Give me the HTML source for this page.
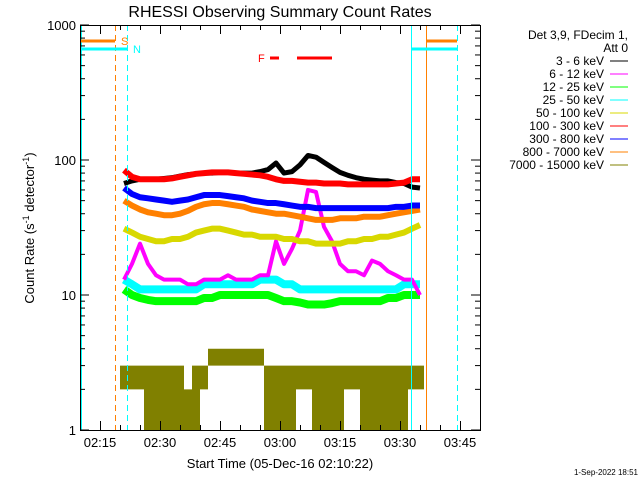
<!DOCTYPE html>
<html><head><meta charset="utf-8"><style>
body{margin:0;background:#fff}
svg{display:block;font-family:"Liberation Sans",sans-serif}
</style></head><body>
<svg id="c" width="640" height="480" viewBox="0 0 640 480" xmlns="http://www.w3.org/2000/svg">
<rect width="640" height="480" fill="#fff"/>
<text x="280" y="17" font-size="16" text-anchor="middle">RHESSI Observing Summary Count Rates</text>
<g id="marks"></g>
<g id="axes" stroke="#000" fill="none"></g>
<g id="labels" font-size="13"></g>
<text transform="translate(34,228) rotate(-90)" font-size="13" text-anchor="middle">Count Rate (s<tspan baseline-shift="super" font-size="9">-1</tspan> detector<tspan baseline-shift="super" font-size="9">-1</tspan>)</text>
<text x="280" y="468" font-size="13" text-anchor="middle">Start Time (05-Dec-16 02:10:22)</text>
<text x="638" y="475" font-size="8" text-anchor="end">1-Sep-2022 18:51</text>
<g id="legend" font-size="12">
<text x="628" y="39" text-anchor="end">Det 3,9, FDecim 1,</text>
<text x="628" y="52" text-anchor="end">Att 0</text>
</g>
</svg>
<script>
// minutes since 02:10, 2-min steps
const times=[11,13,15,17,19,21,23,25,27,29,31,33,35,37,39,41,43,45,47,49,51,53,55,57,59,61,63,65,67,69,71,73,75,77,79,81,83,85];
const s3_6   =[67,70,72,72,72,73,74,76,78,79,80,80,81,81,80,80,80,82,85,95,80,82,92,108,105,96,88,81,77,74,72,71,70,70,68,67,63,62];
const s100_300=[84,75,72,72,72,72,73,75,77,79,80,81,81,81,80,79,78,77,75,72,70,70,69,68,68,67,67,67,66,66,66,66,66,66,67,68,72,72];
const s300_800=[62,56,53,52,51,50,49,50,51,53,55,55,55,54,53,52,50,49,48,48,47,46,45,45,44,44,44,44,44,44,44,44,44,44,45,45,46,46];
const s800_7000=[50,46,43,41,40,39,39,40,42,45,47,48,48,47,46,45,43,42,41,40,40,39,38,37,36,36,36,37,37,37,38,38,38,39,40,41,42,43];
const s50_100=[31,29,27,26,25,25,26,26,27,29,30,31,31,30,29,28,28,27,27,27,26,26,25,25,24,24,24,24,25,25,26,26,27,27,28,29,31,33];
const s6_12  =[13,17,24,17,14,13,13,13,12,12,13,13,13,14,13,13,13,14,14,25,17,22,30,60,58,32,25,17,15,15,14,18,17,15,14,13,13,10];
const s25_50 =[13,12,11,11,11,11,11,11,11,11,12,12,12,12,12,12,12,13,13,13,12,12,11,11,11,11,11,11,11,11,11,11,11,11,11,12,12,12];
const s12_25 =[11,10,9.5,9.2,9,9,9,9,9,9,9.5,9.5,10,10,10,10,10,10,10,9.5,9,9,8.8,8.5,8.5,8.5,8.7,9,9,9,9,9,9,9.5,9.5,10,10,10];
const s7000_low =[2,2,2,1,1,1,1,1,1,1,2,3,3,3,3,3,3,3,1,1,1,1,2,2,1,1,1,1,2,2,1,1,1,1,1,1,2,2];
const s7000_high=[3,3,3,3,3,3,3,3,2,3,3,4,4,4,4,4,4,4,3,3,3,3,3,3,3,3,3,3,3,3,3,3,3,3,3,3,3,3];
const yTicks=[1,10,100,1000];
const yTickLabels=["1","10","100","1000"];
const xTicks=[5,20,35,50,65,80,95];
const xTickLabels=["02:15","02:30","02:45","03:00","03:15","03:30","03:45"];
const legendLabels=["3 - 6 keV","6 - 12 keV","12 - 25 keV","25 - 50 keV","50 - 100 keV","100 - 300 keV","300 - 800 keV","800 - 7000 keV","7000 - 15000 keV"];
const legendColors=["#000","#ff00ff","#00ff00","#00ffff","#d8d800","#ff0000","#0000ff","#ff8000","#808000"];

const X0=80,X1=480,Y0=25,Y1=430;
const xs=t=>X0+4*t;
const ys=v=>Y1-135*Math.log10(v);
const NS="http://www.w3.org/2000/svg";
function mk(tag,attrs,parent){const e=document.createElementNS(NS,tag);for(const k in attrs)e.setAttribute(k,attrs[k]);parent.appendChild(e);return e;}
const marks=document.getElementById('marks'),axes=document.getElementById('axes'),labels=document.getElementById('labels');

// olive band
let d='';
times.forEach((t,i)=>{d+=`M${xs(t-1)},${ys(s7000_low[i])}H${xs(t+1)}V${ys(s7000_high[i])}H${xs(t-1)}Z`;});
let band=mk('path',{d:d,fill:'#808000'},marks);



function line(arr,color,w,name){
  const p=mk('polyline',{points:times.map((t,i)=>xs(t)+','+ys(arr[i])).join(' '),fill:'none',stroke:color,'stroke-width':w,'stroke-linejoin':'round'},marks);
  
  
}
line(s12_25,'#00ff00',8,'series-12-25-kev');
line(s25_50,'#00ffff',8,'series-25-50-kev');
line(s6_12,'#ff00ff',4,'series-6-12-kev');
line(s50_100,'#d8d800',6,'series-50-100-kev');
line(s800_7000,'#ff8000',6,'series-800-7000-kev');
line(s300_800,'#0000ff',6,'series-300-800-kev');
line(s3_6,'#000000',5,'series-3-6-kev');
line(s100_300,'#ff0000',6,'series-100-300-kev');

// vertical markers
function vl(x,color,dash,w,name){const e=mk('line',{x1:x,x2:x,y1:Y0,y2:Y1,stroke:color,'stroke-width':w||1,'stroke-dasharray':dash||'none'},marks);

}
vl(81,'#00ffff','',2,'night-start-line');
vl(115.5,'#ff8000','6,4',1,'saa-end-dashed');
vl(127.5,'#00ffff','6,4',1,'night-end-dashed');
vl(411.5,'#00ffff','',1,'night-start-line-2');
vl(426.5,'#ff8000','',1,'saa-start-line');
vl(457.5,'#ff8000','6,4',1,'saa-end-dashed-2');
vl(457.5,'#00ffff','6,4',1,'night-end-dashed-2');
function hb(x1,x2,y,color,name){const e=mk('line',{x1:x1,x2:x2,y1:y,y2:y,stroke:color,'stroke-width':3},marks);

}
hb(80,115,41,'#ff8000','saa-bar-1');hb(426,457,41,'#ff8000','saa-bar-2');
hb(80,127,49,'#00ffff','night-bar-1');hb(411,457,49,'#00ffff','night-bar-2');
hb(270,279,58,'#ff0000','flare-bar-1');hb(297,332,58,'#ff0000','flare-bar-2');
function tx(x,y,s,color,name,anchor,size){const e=mk('text',{x:x,y:y,fill:color,'text-anchor':anchor||'start','font-size':size||11},labels);e.textContent=s;

}
tx(121,45,'S','#ff8000','saa-label');tx(133,53,'N','#00ffff','night-label');tx(258,62,'F','#ff0000','flare-label');

// axes frame
const fr=mk('rect',{x:X0+0.5,y:Y0+0.5,width:X1-X0,height:Y1-Y0,fill:'none',stroke:'#000'},axes);


// y ticks
yTicks.forEach((v,i)=>{
  const y=ys(v);
  mk('line',{x1:X0,x2:X0+9,y1:y,y2:y},axes);mk('line',{x1:X1-9,x2:X1,y1:y,y2:y},axes);
  tx(76,y+5,yTickLabels[i],'#000','y-tick-label','end',13);
  if(i<yTicks.length-1){for(let m=2;m<10;m++){const yy=ys(v*m);mk('line',{x1:X0,x2:X0+5,y1:yy,y2:yy},axes);mk('line',{x1:X1-5,x2:X1,y1:yy,y2:yy},axes);}}
});
// x ticks
for(let t=0;t<=100;t+=5){const x=xs(t)+0.5;if(x>X1)break;const L=(t%15==5)?9:5;
 mk('line',{x1:x,x2:x,y1:Y1,y2:Y1-L},axes);mk('line',{x1:x,x2:x,y1:Y0,y2:Y0+L},axes);}
xTicks.forEach((t,i)=>tx(xs(t),447,xTickLabels[i],'#000','x-tick-label','middle',13));

// legend
const lg=document.getElementById('legend');
legendLabels.forEach((s,i)=>{const y=65+13*i;
 const t=mk('text',{x:604,y:y,'text-anchor':'end'},lg);t.textContent=s;
 
 
 const l=mk('line',{x1:610,x2:628,y1:y-4,y2:y-4,stroke:legendColors[i]},lg);
 
 });
</script>
</body></html>
